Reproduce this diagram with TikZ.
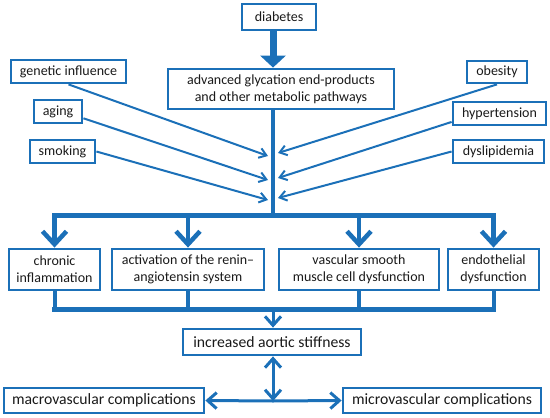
\documentclass[tikz,border=0pt]{standalone}
\usepackage{fontspec}
\setmainfont{Carlito}
\usetikzlibrary{arrows.meta}
\definecolor{aorBlue}{HTML}{1B70B8}
\definecolor{aorInk}{HTML}{1A1A1A}
\tikzset{
  factorbox/.style={rectangle,draw=aorBlue,line width=2.8pt,fill=white,text=aorInk,
    inner sep=1pt,align=center,font=\fontsize{14}{17}\selectfont},
  outcomebox/.style={rectangle,draw=aorBlue,line width=2.8pt,fill=white,text=aorInk,
    inner sep=1pt,align=center,font=\fontsize{15.7}{18}\selectfont},
  feed/.style={draw=aorBlue,line width=2pt,-{Straight Barb[length=7pt,width=10pt]}},
  bus/.style={draw=aorBlue,line width=5pt},
  branch/.style={draw=aorBlue,line width=4.5pt,-{Straight Barb[length=13pt,width=24pt]}},
  link/.style={draw=aorBlue,line width=3pt,-{Straight Barb[length=9pt,width=16pt]}},
  twoway/.style={draw=aorBlue,line width=3pt,{Straight Barb[length=9pt,width=16pt]}-{Straight Barb[length=9pt,width=16pt]}},
  bigarrow/.style={draw=aorBlue,line width=7pt,-{Triangle[length=12pt,width=25pt]}}
}
\begin{document}
\begin{tikzpicture}[x=1pt,y=-1pt]
  \useasboundingbox (0,0) rectangle (550,418);
  % source and pathway
  \node[factorbox, minimum width=74pt, minimum height=26pt] (diab) at (279,17) {diabetes};
  \node[factorbox, minimum width=226pt, minimum height=40pt] (age) at (281,89)
    {advanced glycation end-products\\ and other metabolic pathways};
  % risk factors
  \node[factorbox, minimum width=115pt, minimum height=23pt] (genetic) at (68.5,71.5) {genetic influence};
  \node[factorbox, minimum width=48pt, minimum height=23pt] (aging) at (58,111.5) {aging};
  \node[factorbox, minimum width=65pt, minimum height=23pt] (smoking) at (62.5,151.5) {smoking};
  \node[factorbox, minimum width=60pt, minimum height=22pt] (obesity) at (497,72) {obesity};
  \node[factorbox, minimum width=93pt, minimum height=23pt] (hyper) at (499.5,113.5) {hypertension};
  \node[factorbox, minimum width=91pt, minimum height=23pt] (dyslip) at (498.5,151.5) {dyslipidemia};
  % mechanisms
  \node[factorbox, minimum width=91pt, minimum height=41pt] (chronic) at (54.5,269.5) {chronic\\ inflammation};
  \node[factorbox, minimum width=152pt, minimum height=41pt] (raas) at (188,269.5)
    {activation of the renin--\\ angiotensin system};
  \node[factorbox, minimum width=160pt, minimum height=41pt] (vsmc) at (359,269.5)
    {vascular smooth\\ muscle cell dysfunction};
  \node[factorbox, minimum width=91pt, minimum height=41pt] (endo) at (493.5,269.5) {endothelial\\ dysfunction};
  % outcomes
  \node[outcomebox, minimum width=178pt, minimum height=26pt] (aortic) at (272,342) {increased aortic stiffness};
  \node[outcomebox, minimum width=200pt, minimum height=25pt] (macro) at (104,400.5) {macrovascular complications};
  \node[outcomebox, minimum width=198pt, minimum height=25pt] (micro) at (442,400.5) {microvascular complications};

  \coordinate (split) at (273,215);
  \coordinate (merge) at (273,309);
  \coordinate (hub) at (273,401);
  \coordinate (inL1) at (268,156);
  \coordinate (inL2) at (268,180);
  \coordinate (inL3) at (268,200);
  \coordinate (inR1) at (278,153);
  \coordinate (inR2) at (278,178);
  \coordinate (inR3) at (278,198);

  \draw[bigarrow] (diab.south -| split) -- (age.north -| split);
  \draw[draw=aorBlue, line width=4pt] (age.south -| split) -- (split);
  \draw[feed] (genetic.south) -- (inL1);
  \draw[feed] (aging.345) -- (inL2);
  \draw[feed] (smoking.east) -- (inL3);
  \draw[feed] (obesity.south) -- (inR1);
  \draw[feed] (hyper.190) -- (inR2);
  \draw[feed] (dyslip.west) -- (inR3);

  \draw[bus] ([xshift=-2.5pt]split -| chronic) -- ([xshift=2.5pt]split -| endo);
  \foreach \m in {chronic,raas,vsmc,endo}
    \draw[branch] (split -| \m) -- (\m.north);
  \foreach \m in {chronic,raas,vsmc,endo}
    \draw[bus, line width=4pt] (\m.south) -- (merge -| \m);
  \draw[bus] ([xshift=-2.5pt]merge -| chronic) -- ([xshift=2.5pt]merge -| endo);
  \draw[link] (merge) -- (aortic.north -| merge);

  \draw[twoway] (aortic.south -| hub) -- (hub);
  \draw[link] (hub) -- (macro.east);
  \draw[link] (hub) -- (micro.west);
\end{tikzpicture}
\end{document}
